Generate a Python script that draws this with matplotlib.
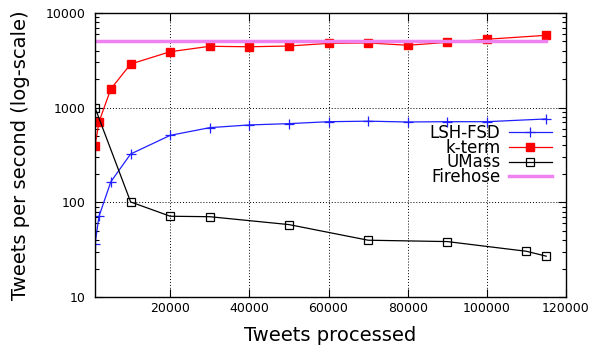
import matplotlib
matplotlib.use('Agg')
import matplotlib.pyplot as plt
from matplotlib.ticker import FixedLocator, LogLocator, NullFormatter

# data
lsh_x = [1000, 2000, 5000, 10000, 20000, 30000, 40000, 50000, 60000, 70000, 80000, 90000, 100000, 115000]
lsh_y = [36, 71, 165, 324, 510, 615, 657, 678, 711, 720, 706, 711, 711, 760]

kterm_x = [1000, 2000, 5000, 10000, 20000, 30000, 40000, 50000, 60000, 70000, 80000, 90000, 100000, 115000]
kterm_y = [394, 706, 1576, 2890, 3900, 4450, 4400, 4480, 4780, 4830, 4560, 4900, 5280, 5810]

umass_x = [1000, 10000, 20000, 30000, 50000, 70000, 90000, 110000, 115000]
umass_y = [1000, 101, 71.3, 70.5, 58.2, 39.8, 38.5, 30.4, 27]

fire_x = [1000, 115000]
fire_y = [5000, 5000]

xticks = [20000, 40000, 60000, 80000, 100000, 120000]
yticks = [10, 100, 1000, 10000]

fig = plt.figure(figsize=(6.0, 3.49), dpi=100)
ax = fig.add_axes([95/600, 1 - 297/349, (566 - 95)/600, (297 - 13)/349])

ax.plot(lsh_x, lsh_y, color='#2020ff', lw=0.9, marker='+', ms=7, mew=0.9, label='LSH-FSD')
ax.plot(kterm_x, kterm_y, color='#ff0000', lw=0.9, marker='s', ms=6, mfc='#ff0000', mec='#ff0000', label='k-term')
ax.plot(umass_x, umass_y, color='black', lw=0.9, marker='s', ms=6, mfc='none', mec='black', mew=0.9, label='UMass')
ax.plot(fire_x, fire_y, color='#ee82ee', lw=2.5, label='Firehose')

ax.set_yscale('log')
ax.set_xlim(1000, 120000)
ax.set_ylim(10, 10000)
ax.xaxis.set_major_locator(FixedLocator(xticks))
ax.set_xticklabels([str(t) for t in xticks])
ax.yaxis.set_major_locator(FixedLocator(yticks))
ax.set_yticklabels([str(t) for t in yticks])
ax.yaxis.set_minor_locator(LogLocator(base=10, subs=range(2, 10)))
ax.yaxis.set_minor_formatter(NullFormatter())

ax.tick_params(which='both', direction='in', top=True, right=True, labelsize=9)
ax.tick_params(axis='y', which='major', pad=7)
ax.tick_params(which='major', length=6, width=0.8)
ax.tick_params(which='minor', length=3, width=0.8)
for s in ax.spines.values():
    s.set_linewidth(1.0)

ax.grid(True, which='major', color='black', linestyle=(0, (1, 2)), linewidth=0.7)

ax.set_xlabel('Tweets processed', fontsize=14, labelpad=8)
ax.set_ylabel('Tweets per second (log-scale)', fontsize=14, labelpad=11)

leg = ax.legend(loc='upper right', bbox_to_anchor=(0.995, 0.65), markerfirst=False,
                frameon=False, fontsize=12, labelspacing=-0.2, handlelength=2.6,
                handletextpad=0.5, borderpad=0.2)
for t in leg.get_texts():
    t.set_ha('right')

fig.savefig('out.png', dpi=100)
